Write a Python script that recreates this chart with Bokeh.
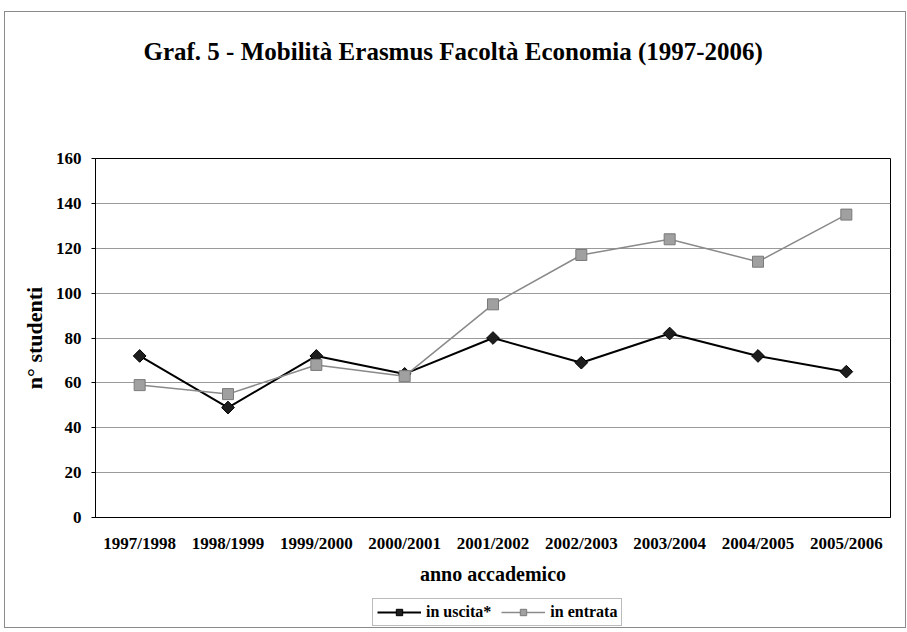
import math
from bokeh.plotting import figure
from bokeh.models import Title, Legend, LegendItem, FactorRange, FixedTicker, Range1d
from bokeh.layouts import column
from bokeh.embed import file_html
from bokeh.resources import INLINE

years = ["1997/1998", "1998/1999", "1999/2000", "2000/2001", "2001/2002",
         "2002/2003", "2003/2004", "2004/2005", "2005/2006"]
in_uscita = [72, 49, 72, 64, 80, 69, 82, 72, 65]
in_entrata = [59, 55, 68, 63, 95, 117, 124, 114, 135]
y_ticks = [0, 20, 40, 60, 80, 100, 120, 140, 160]
title_text = "Graf. 5 - Mobilità Erasmus Facoltà Economia (1997-2006)"
series_labels = ["in uscita*", "in entrata"]

FONT = "Liberation Serif"
W = 900
MBL, MBR = 90, 15

U_LINE = dict(line_color="black", line_width=2)
U_MARK = dict(marker="square", angle=math.pi / 4, size=9, fill_color="#1e1e1e", line_color="black")
E_LINE = dict(line_color="#8a8a8a", line_width=1.5)
E_MARK = dict(marker="square", size=11, fill_color="#a0a0a0", line_color="#7a7a7a")

# ---- title strip ----
pt = figure(width=W, height=84, output_backend="svg", toolbar_location=None,
            x_axis_type=None, y_axis_type=None,
            min_border_left=MBL, min_border_right=MBR, min_border_top=0, min_border_bottom=0)
pt.outline_line_color = None
pt.grid.grid_line_color = None
pt.title = Title(text=title_text, text_font=FONT, text_font_size="25px",
                 text_font_style="bold", align="left", offset=48, standoff=47,
                 text_color="black")

# ---- main chart ----
p = figure(x_range=FactorRange(*years), y_range=(0, 160),
           width=W, height=491, output_backend="svg", toolbar_location=None,
           min_border_left=MBL, min_border_right=MBR, min_border_top=62, min_border_bottom=70)

p.outline_line_color = "black"
p.outline_line_width = 1

p.xgrid.grid_line_color = None
p.ygrid.grid_line_color = "#9a9a9a"
p.ygrid.grid_line_width = 1

p.yaxis.ticker = FixedTicker(ticks=y_ticks)
p.yaxis.axis_line_color = "black"
p.yaxis.major_tick_out = 4
p.yaxis.major_tick_in = 0
p.yaxis.minor_tick_line_color = None
p.yaxis.major_label_text_font = FONT
p.yaxis.major_label_text_font_size = "17px"
p.yaxis.major_label_text_font_style = "bold"
p.yaxis.major_label_text_color = "black"
p.yaxis.major_label_standoff = 10
p.yaxis.axis_label = "n° studenti"
p.yaxis.axis_label_text_font = FONT
p.yaxis.axis_label_text_font_size = "22px"
p.yaxis.axis_label_text_font_style = "bold"
p.yaxis.axis_label_text_color = "black"
p.yaxis.axis_label_standoff = 6

p.xaxis.axis_line_color = "black"
p.xaxis.major_tick_line_color = None
p.xaxis.major_label_text_font = FONT
p.xaxis.major_label_text_font_size = "17px"
p.xaxis.major_label_text_font_style = "bold"
p.xaxis.major_label_text_color = "black"
p.xaxis.major_label_standoff = 10
p.xaxis.axis_label = "anno accademico"
p.xaxis.axis_label_text_font = FONT
p.xaxis.axis_label_text_font_size = "20px"
p.xaxis.axis_label_text_font_style = "bold"
p.xaxis.axis_label_text_color = "black"
p.xaxis.axis_label_standoff = 7

p.line(years, in_uscita, **U_LINE)
p.scatter(years, in_uscita, **U_MARK)
p.line(years, in_entrata, **E_LINE)
p.scatter(years, in_entrata, **E_MARK)

# ---- legend strip (proxy renderers kept outside the visible range) ----
pl = figure(width=W, height=40, output_backend="svg", toolbar_location=None,
            x_axis_type=None, y_axis_type=None,
            x_range=Range1d(10, 11), y_range=Range1d(10, 11),
            min_border_left=MBL, min_border_right=MBR, min_border_top=0, min_border_bottom=0)
pl.outline_line_color = None
pl.grid.grid_line_color = None
dl1 = pl.line(x=[0, 1], y=[0, 1], **U_LINE)
dm1 = pl.scatter(x=[0], y=[0], **U_MARK)
dl2 = pl.line(x=[0, 1], y=[0, 1], **E_LINE)
dm2 = pl.scatter(x=[0], y=[0], **E_MARK)
legend = Legend(items=[LegendItem(label=series_labels[0], renderers=[dl1, dm1]),
                       LegendItem(label=series_labels[1], renderers=[dl2, dm2])],
                orientation="horizontal", location=(277, 1),
                label_text_font=FONT, label_text_font_size="16px", label_text_font_style="bold",
                label_text_color="black", border_line_color="#777777", border_line_width=1,
                glyph_width=44, glyph_height=16, spacing=10, padding=4, margin=0,
                label_standoff=5)
pl.add_layout(legend, "center")

layout = column(pt, p, pl, spacing=0, margin=(11, 0, 0, 4),
                styles={"border": "1px solid #8a8a8a"})

open("out.html", "w").write(file_html(layout, INLINE))
